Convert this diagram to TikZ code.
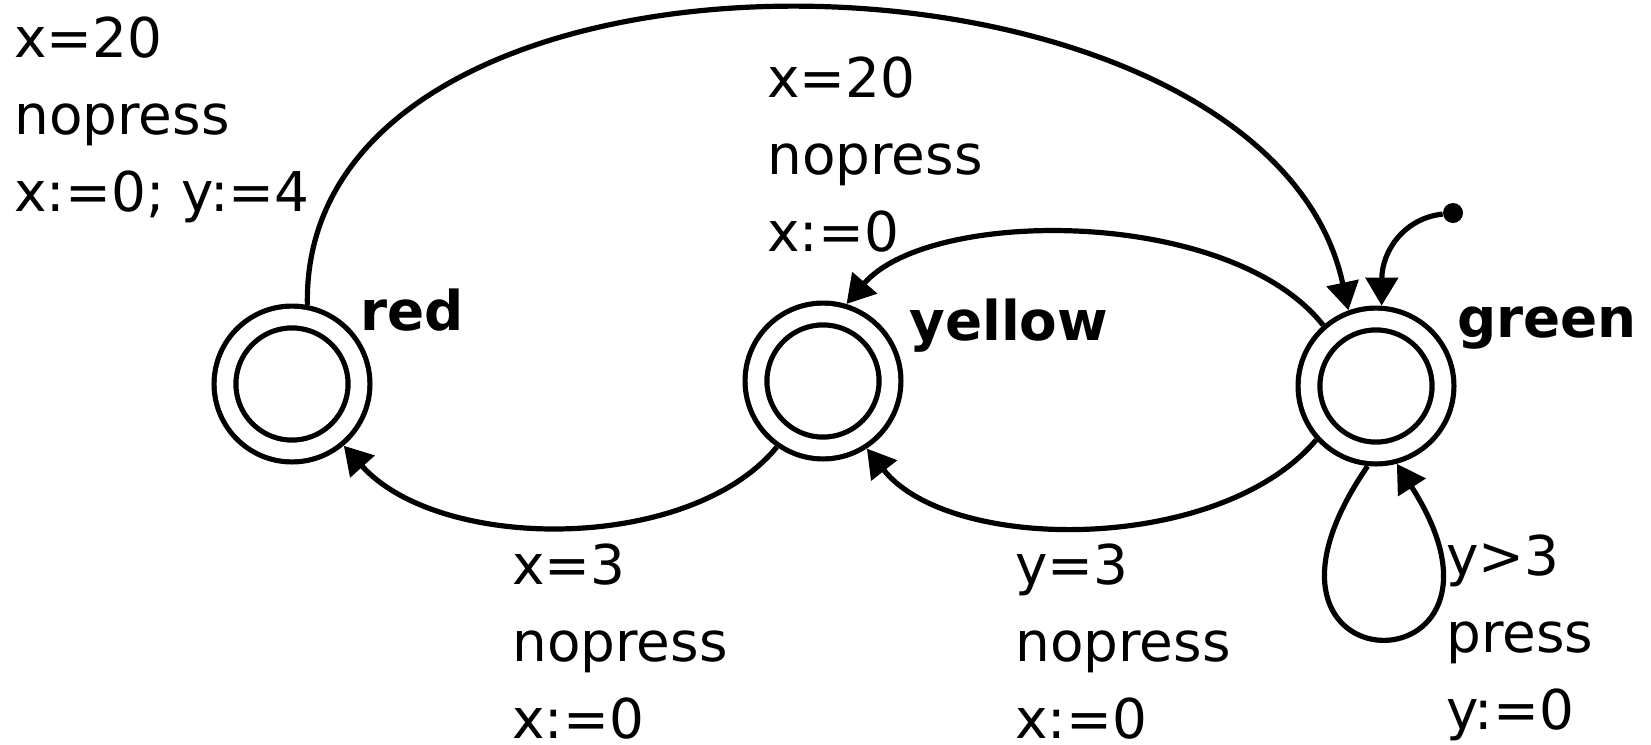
\documentclass[tikz,border=0pt]{standalone}
\usepackage{fontspec}
\setmainfont{DejaVu Sans}
\usetikzlibrary{arrows.meta}
\newcommand\threelines[3]{\vtop{\baselineskip=38.5pt\hbox{#1}\hbox{#2}\hbox{#3}}}
\begin{document}
\begin{tikzpicture}[x=0.5pt,y=-0.5pt,
  state/.style={circle, draw, line width=2.6pt, double, double distance=8.3pt,
    minimum size=67pt, inner sep=0pt, outer sep=6.8pt},
  trans/.style={line width=2.6pt, -{Triangle[length=14pt,width=16pt]}},
  lbl/.style={font=\fontsize{27.4pt}{38.5pt}\selectfont, inner sep=0pt, anchor=base west},
  slbl/.style={font=\fontsize{27.4pt}{38.5pt}\selectfont\bfseries, inner sep=0pt, anchor=base west}]
\useasboundingbox (0,0) rectangle (1651,745);

% states
\node[state] (r) at (292,384) {};
\node[state] (y) at (823,381) {};
\node[state] (g) at (1376,386) {};
\node[slbl] (rl) at (360,330) {red};
\node[slbl] (yl) at (909,340) {yellow};
\node[slbl] (gl) at (1457,337) {green};

% initial
\node[circle, fill, inner sep=0pt, minimum size=10pt] (init) at (1453,213) {};
\draw[trans] (init) .. controls (1405,218) and (1382,250) .. (g.86);

% transitions
\draw[trans] (r.79) .. controls (300,-100) and (1265,-80) .. (g.110);
\draw[trans] (g.131) .. controls (1230,207) and (930,207) .. (y.73);
\draw[trans] (g.-138) .. controls (1220,554) and (950,554) .. (y.-57);
\draw[trans] (y.-125) .. controls (690,553) and (440,553) .. (r.-50);
\draw[trans] (g.-96) .. controls (1210,695) and (1545,695) .. (g.-75);

% labels
\node[lbl] (l1) at (14,57) {\threelines{x=20}{nopress}{x:=0; y:=4}};
\node[lbl] (l2) at (767,97) {\threelines{x=20}{nopress}{x:=0}};
\node[lbl] (l3) at (512,584) {\threelines{x=3}{nopress}{x:=0}};
\node[lbl] (l4) at (1015,584) {\threelines{y=3}{nopress}{x:=0}};
\node[lbl] (l5) at (1446,575) {\threelines{y>3}{press}{y:=0}};
\end{tikzpicture}
\end{document}
